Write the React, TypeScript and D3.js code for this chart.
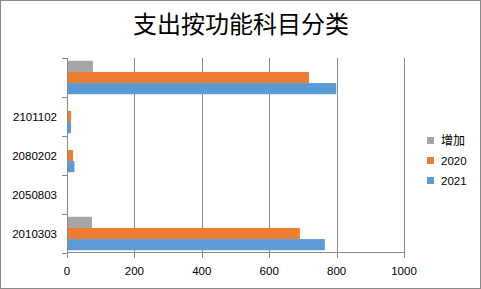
import React from "react";
import * as d3 from "d3";

const categories = ["2010303", "2050803", "2080202", "2101102", ""];
const seriesNames = ["增加", "2020", "2021"];
const values增加 = [74, 0, 0, 1, 77];
const values2020 = [691, 0, 18, 12, 718];
const values2021 = [765, 0, 22, 12, 799];
const xTicks = [0, 200, 400, 600, 800, 1000];
const colors = ["#A5A5A5", "#ED7D31", "#5B9BD5"];

export default function App() {
  const W = 481, H = 289;
  const left = 67, right = 404, top = 58, bottom = 253;
  const x = d3.scaleLinear().domain([0, 1000]).range([left, right]);
  // first category at bottom
  const y = d3.scaleBand<string>().domain([...categories].reverse().map((c, i) => c + "_" + (categories.length - 1 - i))).range([top, bottom]);
  const keyOf = (i: number) => categories[i] + "_" + i;
  const inner = d3.scaleBand<string>().domain(seriesNames).range([0, y.bandwidth()]).paddingInner(0).paddingOuter(0.25);
  const series = [values增加, values2020, values2021];
  const font = "'Liberation Sans', 'Noto Sans', sans-serif";
  const axisColor = "#898989";
  return (
    <svg width={W} height={H} style={{ position: "absolute", left: 0, top: 0 }}>
      <rect x={0.5} y={0.5} width={W - 1} height={H - 1} fill="#fff" stroke="#898989" />
      <text x={241} y={33} textAnchor="middle" fontSize={24} fontFamily="'Noto Sans CJK SC', serif" fill="#000">支出按功能科目分类</text>
      {xTicks.map((t) => (
        <line key={"g" + t} x1={Math.round(x(t)) + 0.5} x2={Math.round(x(t)) + 0.5} y1={top} y2={bottom + 5} stroke={axisColor} />
      ))}
      {categories.map((c, i) => {
        const y0 = y(keyOf(i))!;
        return (
          <g key={"c" + i}>
            {series.map((vals, s) => (
              <rect key={s} x={x(0)} y={y0 + inner(seriesNames[s])!} width={x(vals[i]) - x(0)} height={inner.bandwidth()} fill={colors[s]} />
            ))}
            <text x={57} y={y0 + y.bandwidth() / 2 + 4} textAnchor="end" fontSize={11.5} fontFamily={font} fill="#000">{c}</text>
          </g>
        );
      })}
      {d3.range(categories.length + 1).map((k) => {
        const yy = Math.round(top + k * y.step()) + 0.5;
        return <line key={"t" + k} x1={62} x2={left} y1={yy} y2={yy} stroke={axisColor} />;
      })}
      <line x1={left + 0.5} x2={left + 0.5} y1={top} y2={bottom} stroke={axisColor} />
      <line x1={left} x2={right + 1} y1={Math.round(bottom) - 0.5} y2={Math.round(bottom) - 0.5} stroke={axisColor} />
      {xTicks.map((t) => (
        <text key={"l" + t} x={x(t)} y={275} textAnchor="middle" fontSize={11.5} fontFamily={font} fill="#000">{t}</text>
      ))}
      {seriesNames.map((n, s) => (
        <g key={"lg" + s}>
          <rect x={427} y={137 + s * 20} width={7} height={7} fill={colors[s]} />
          <text x={441} y={145 + s * 20} fontSize={s === 0 ? 12 : 11.5} fontFamily={s === 0 ? "'Noto Sans CJK SC', sans-serif" : font} fill="#000">{n}</text>
        </g>
      ))}
    </svg>
  );
}
